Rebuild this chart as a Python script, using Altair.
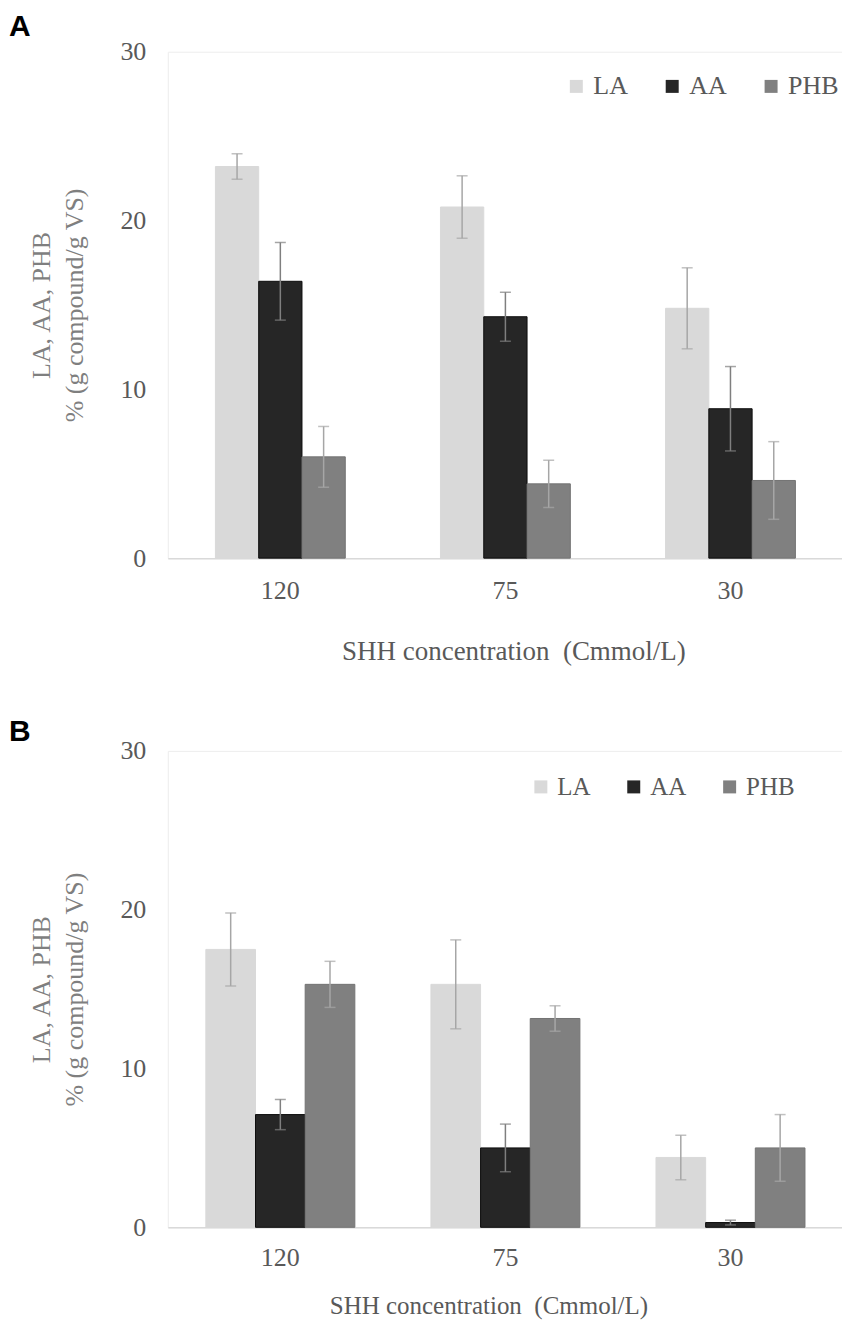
import altair as alt
import pandas as pd

# ---- data ----
concentrations = ["120", "75", "30"]
series = ["LA", "AA", "PHB"]

A_LA = [23.2, 20.8, 14.8]
A_LA_err = [0.75, 1.85, 2.4]
A_AA = [16.4, 14.3, 8.85]
A_AA_err = [2.3, 1.45, 2.5]
A_PHB = [6.0, 4.4, 4.6]
A_PHB_err = [1.8, 1.4, 2.3]

B_LA = [17.5, 15.3, 4.4]
B_LA_err = [2.3, 2.8, 1.4]
B_AA = [7.1, 5.0, 0.3]
B_AA_err = [0.95, 1.5, 0.15]
B_PHB = [15.3, 13.15, 5.0]
B_PHB_err = [1.45, 0.8, 2.1]

y_ticks = [0, 10, 20, 30]
x_title = "SHH concentration \u00a0(Cmmol/L)"
y_title = ["LA, AA, PHB", "% (g compound/g VS)"]

# ---- styles ----
bar_fill = ["#d9d9d9", "#262626", "#808080"]
bar_stroke = ["#d9d9d9", "#0d0d0d", "#737373"]
err_color = ["#a6a6a6", "#7f7f7f", "#a6a6a6"]
SERIF = "Liberation Serif"
TXT = "#595959"


def build_df(vals, errs):
    rows = []
    for s, v_list, e_list in zip(series, vals, errs):
        for c, v, e in zip(concentrations, v_list, e_list):
            rows.append({"conc": c, "series": s, "value": v, "lo": v - e, "hi": v + e})
    return pd.DataFrame(rows)


def panel(df, letter, width, height, pad_inner, leg_x, leg_y, leg_font, leg_gap,
          lab_pad, title_pad, letter_y, title_x, title_size):
    x = alt.X(
        "conc:N",
        sort=concentrations,
        scale=alt.Scale(paddingInner=pad_inner, paddingOuter=pad_inner / 2),
        axis=alt.Axis(
            title=x_title,
            labelAngle=0,
            ticks=False,
            domainColor="#d9d9d9",
            domainWidth=1.5,
            labelFont=SERIF,
            labelFontSize=26,
            labelColor=TXT,
            labelPadding=lab_pad,
            titleFont=SERIF,
            titleFontSize=title_size,
            titleFontWeight="normal",
            titleColor=TXT,
            titlePadding=title_pad,
            titleX=title_x,
        ),
    )
    xo = alt.XOffset("series:N", sort=series, scale=alt.Scale(paddingInner=0, paddingOuter=0))
    yscale = alt.Scale(domain=[0, 30], nice=False)
    yaxis = alt.Axis(
        values=y_ticks,
        grid=False,
        domain=False,
        ticks=False,
        labelFont=SERIF,
        labelFontSize=26,
        labelColor=TXT,
        labelPadding=22,
        title=y_title,
        titleFont=SERIF,
        titleFontSize=26,
        titleFontWeight="normal",
        titleColor="#7f7f7f",
        titlePadding=32,
        titleLineHeight=33,
    )
    err_enc = alt.Color("series:N", sort=series,
                        scale=alt.Scale(domain=series, range=err_color), legend=None)

    bars = alt.Chart(df).mark_bar(strokeWidth=1).encode(
        x=x,
        xOffset=xo,
        y=alt.Y("value:Q", scale=yscale, axis=yaxis),
        color=alt.Color(
            "series:N",
            sort=series,
            scale=alt.Scale(domain=series, range=bar_fill),
            legend=alt.Legend(
                orient="none",
                legendX=leg_x,
                legendY=leg_y,
                direction="horizontal",
                title=None,
                symbolType="square",
                symbolSize=169,
                symbolStrokeWidth=0,
                symbolOpacity=1,
                labelFont=SERIF,
                labelFontSize=leg_font,
                labelColor=TXT,
                labelOffset=4,
                columnPadding=leg_gap,
                padding=0,
            ),
        ),
        stroke=alt.Stroke("series:N", sort=series,
                          scale=alt.Scale(domain=series, range=bar_stroke), legend=None),
    )

    rules = alt.Chart(df).mark_rule(strokeWidth=1.5).encode(
        x=x,
        xOffset=xo,
        y=alt.Y("lo:Q", scale=yscale, axis=yaxis),
        y2="hi:Q",
        color=err_enc,
    )
    cap_hi = alt.Chart(df).mark_tick(size=11, thickness=1.5).encode(
        x=x,
        xOffset=xo,
        y=alt.Y("hi:Q", scale=yscale, axis=yaxis),
        color=err_enc,
    )
    cap_lo = alt.Chart(df).mark_tick(size=11, thickness=1.5).encode(
        x=x,
        xOffset=xo,
        y=alt.Y("lo:Q", scale=yscale, axis=yaxis),
        color=err_enc,
    )
    lab = alt.Chart(pd.DataFrame({"t": [letter]})).mark_text(
        font="Liberation Sans", fontSize=30, fontWeight="bold", color="#000000",
        align="left", baseline="alphabetic",
    ).encode(text="t:N", x=alt.value(-159), y=alt.value(letter_y))

    return alt.layer(bars, rules, cap_hi, cap_lo, lab).resolve_scale(
        color="independent", stroke="independent"
    ).properties(width=width, height=height)


dfA = build_df([A_LA, A_AA, A_PHB], [A_LA_err, A_AA_err, A_PHB_err])
dfB = build_df([B_LA, B_AA, B_PHB], [B_LA_err, B_AA_err, B_PHB_err])

pA = panel(dfA, "A", 676, 507, 0.423, 396, 21.7, 26, 31, 19, 35, -16, 346, 27)
pB = panel(dfB, "B", 676, 477, 0.338, 361, 23.3, 25, 30, 17, 23, -10, 321, 25)

chart = alt.vconcat(pA, pB, spacing=51).resolve_scale(
    color="independent", stroke="independent", xOffset="independent"
).properties(
    padding={"top": 2, "left": 0, "right": -2, "bottom": 0}
).configure_view(stroke="#ededed", strokeWidth=1)

chart.save("out.html", embed_options={"renderer": "svg", "actions": False})
